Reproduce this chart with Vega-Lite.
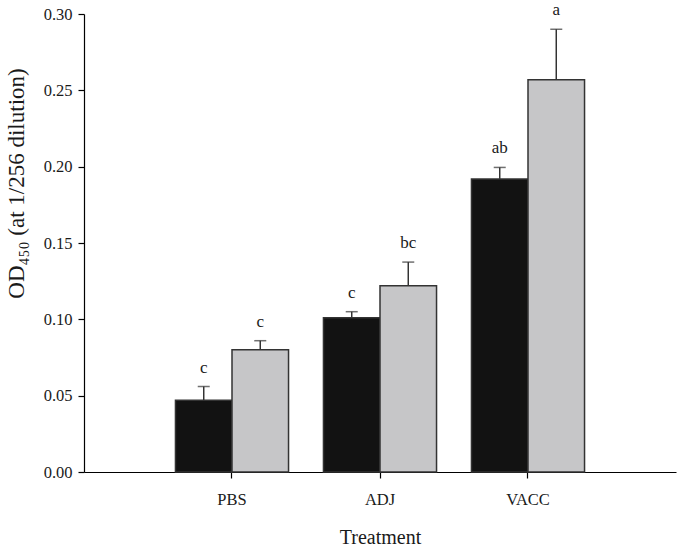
{
  "$schema": "https://vega.github.io/schema/vega-lite/v6.json",
  "width": 592,
  "height": 458,
  "autosize": "none",
  "padding": {"left": 84, "top": 14, "right": 1, "bottom": 79},
  "background": "white",
  "config": {
    "view": {"stroke": null},
    "font": "Liberation Serif",
    "axis": {
      "grid": false,
      "domainColor": "#000000",
      "domainWidth": 1.2,
      "tickColor": "#000000",
      "tickWidth": 1.2,
      "tickSize": 6,
      "labelFont": "Liberation Serif",
      "titleFont": "Liberation Serif",
      "labelColor": "#1a1a1a",
      "titleColor": "#1a1a1a",
      "labelFontSize": 16.5,
      "titleFontWeight": "normal"
    }
  },
  "data": {
    "values": [
      {"treatment": "PBS", "group": "1", "value": 0.047, "upper": 0.056, "letter": "c"},
      {"treatment": "PBS", "group": "2", "value": 0.080, "upper": 0.086, "letter": "c"},
      {"treatment": "ADJ", "group": "1", "value": 0.101, "upper": 0.105, "letter": "c"},
      {"treatment": "ADJ", "group": "2", "value": 0.122, "upper": 0.1375, "letter": "bc"},
      {"treatment": "VACC", "group": "1", "value": 0.192, "upper": 0.1995, "letter": "ab"},
      {"treatment": "VACC", "group": "2", "value": 0.257, "upper": 0.290, "letter": "a"}
    ]
  },
  "encoding": {
    "x": {
      "field": "treatment",
      "type": "nominal",
      "sort": ["PBS", "ADJ", "VACC"],
      "scale": {"paddingInner": 0.236, "paddingOuter": 0.618},
      "axis": {
        "title": "Treatment",
        "titleFontSize": 20,
        "titleY": 55,
        "titleBaseline": "top",
        "labelAngle": 0,
        "labelPadding": 13,
        "bandPosition": 0.5
      }
    },
    "xOffset": {
      "field": "group",
      "type": "nominal",
      "sort": ["1", "2"],
      "scale": {"paddingInner": 0, "paddingOuter": 0}
    }
  },
  "layer": [
    {
      "mark": {"type": "bar", "stroke": "#333333", "strokeWidth": 1.5},
      "encoding": {
        "y": {
          "field": "value",
          "type": "quantitative",
          "scale": {"domain": [0, 0.3], "nice": false},
          "axis": {
            "title": "OD₄₅₀ (at 1/256 dilution)",
            "titleFontSize": 23,
            "titleX": -68,
            "titleY": 169,
            "titleBaseline": "middle",
            "titleAlign": "center",
            "titleAngle": -90,
            "format": ".2f",
            "values": [0, 0.05, 0.1, 0.15, 0.2, 0.25, 0.3],
            "labelPadding": 6
          }
        },
        "color": {
          "field": "group",
          "type": "nominal",
          "scale": {"domain": ["1", "2"], "range": ["#121212", "#c6c6c8"]},
          "legend": null
        }
      }
    },
    {
      "mark": {"type": "rule", "color": "#333333", "strokeWidth": 1.5},
      "encoding": {
        "y": {"field": "value", "type": "quantitative"},
        "y2": {"field": "upper"}
      }
    },
    {
      "mark": {"type": "tick", "color": "#333333", "thickness": 1.5, "orient": "horizontal"},
      "encoding": {
        "y": {"field": "upper", "type": "quantitative"},
        "size": {"value": 12}
      }
    },
    {
      "mark": {"type": "text", "baseline": "bottom", "dy": -10, "fontSize": 17, "color": "#1a1a1a", "font": "Liberation Serif"},
      "encoding": {
        "y": {"field": "upper", "type": "quantitative"},
        "text": {"field": "letter"}
      }
    }
  ]
}
